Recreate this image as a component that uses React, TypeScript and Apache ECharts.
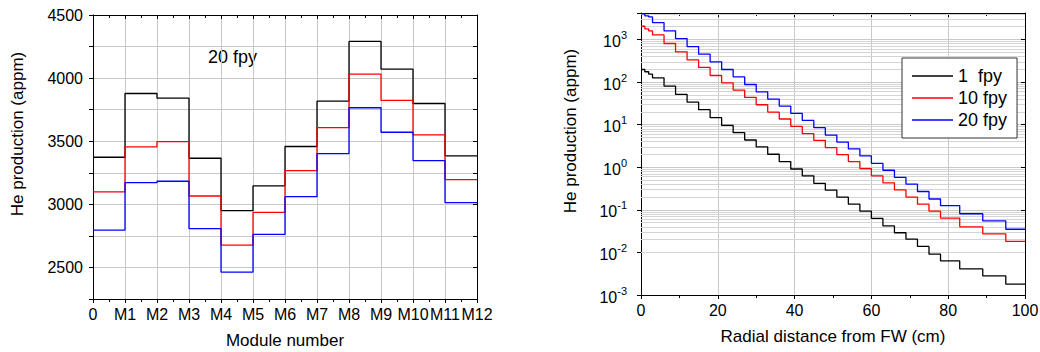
import React, { useEffect, useRef } from 'react';
import * as echarts from 'echarts';

const FONT = '"Liberation Sans", Arial, Helvetica, sans-serif';

// ---- Left chart: He production per module (20 fpy) ----
const moduleTickLabels = ['0', 'M1', 'M2', 'M3', 'M4', 'M5', 'M6', 'M7', 'M8', 'M9', 'M10', 'M11', 'M12'];
const moduleEdges = [0, 1, 2, 3, 4, 5, 6, 7, 8, 9, 10, 11, 12];
const moduleBlack = [3373, 3878, 3841, 3365, 2950, 3146, 3458, 3817, 4291, 4071, 3799, 3384];
const moduleRed = [3098, 3455, 3497, 3066, 2677, 2937, 3267, 3608, 4032, 3823, 3550, 3196];
const moduleBlue = [2796, 3172, 3183, 2807, 2463, 2762, 3061, 3402, 3765, 3571, 3347, 3013];

// ---- Right chart: He production vs radial distance ----
const radialEdges = [0, 1, 2, 3, 6, 9, 12, 15, 18, 21, 24, 27, 30, 33, 36, 39, 42, 45, 48, 51, 54, 57, 60, 63, 66, 69, 72, 75, 78, 83, 89, 95, 100];
const fpy1 = [198, 175, 154, 126, 80.6, 51.4, 34, 22.5, 14.6, 9.6, 6.5, 4.37, 3.0, 2.02, 1.36, 0.91, 0.63, 0.42, 0.29, 0.198, 0.136, 0.093, 0.063, 0.042, 0.029, 0.0205, 0.0138, 0.0091, 0.0063, 0.0041, 0.0028, 0.0018];
const fpy10 = [2053, 1778, 1597, 1286, 806, 514, 334, 221, 143, 96, 65, 43.7, 29.4, 19.8, 13.6, 9.1, 6.15, 4.3, 2.9, 1.98, 1.36, 0.93, 0.63, 0.43, 0.294, 0.2, 0.136, 0.093, 0.064, 0.04, 0.0274, 0.0181];
const fpy20 = [4000, 3600, 3400, 2500, 1600, 1055, 685, 453, 300, 198, 133, 88, 59, 40, 27.4, 18.4, 12.6, 8.5, 5.7, 3.9, 2.7, 1.85, 1.24, 0.85, 0.58, 0.4, 0.27, 0.18, 0.126, 0.081, 0.055, 0.035];
const legendNames = ['1  fpy', '10 fpy', '20 fpy'];
const radialTicks = [0, 20, 40, 60, 80, 100];

const stepData = (edges: number[], vals: number[]) =>
  vals.map((v, i) => [edges[i], v]).concat([[edges[edges.length - 1], vals[vals.length - 1]]]);

const logMin = 0.001;
const logMax = 4200;
const minorLogLines: number[] = [];
for (let k = -3; k <= 3; k++) {
  for (let m = 2; m <= 9; m++) {
    const v = m * Math.pow(10, k);
    if (v < logMax) minorLogLines.push(v);
  }
}

export default function App() {
  const ref = useRef<HTMLDivElement>(null);
  useEffect(() => {
    document.body.style.margin = '0';
    if (!ref.current) return;
    const chart = echarts.init(ref.current, null, { renderer: 'svg' });
    const axisLine = { show: true, onZero: false, lineStyle: { color: '#000', width: 1 } };
    const tickLine = { color: '#000', width: 1 };
    const label = { color: '#000', fontFamily: FONT, fontSize: 16 };
    const grid = { color: '#c8c8c8', width: 1, type: 'solid' };
    const lineSeries = (name: string, color: string, data: any, xi: number, yi: number) => ({
      name,
      type: 'line',
      xAxisIndex: xi,
      yAxisIndex: yi,
      data,
      step: 'end',
      symbol: 'none',
      showSymbol: false,
      lineStyle: { color, width: 1.3 },
      itemStyle: { color },
      z: 3,
    });
    const option: any = {
      animation: false,
      backgroundColor: '#fff',
      textStyle: { fontFamily: FONT },
      grid: [
        { left: 93, top: 15, width: 384, height: 284, containLabel: false, outerBoundsMode: 'none' },
        { left: 641, top: 13, width: 384, height: 282, containLabel: false, outerBoundsMode: 'none' },
      ],
      xAxis: [
        {
          gridIndex: 0, type: 'value', min: 0, max: 12, interval: 1, position: 'bottom',
          axisLine, axisTick: { show: true, inside: false, length: 4, lineStyle: tickLine },
          minorTick: { show: true, splitNumber: 2, length: 3, lineStyle: tickLine },
          axisLabel: { ...label, margin: 7, formatter: (v: number) => moduleTickLabels[Math.round(v)] ?? '' },
          splitLine: { show: true, lineStyle: grid },
          name: 'Module number', nameLocation: 'middle', nameGap: 33,
          nameTextStyle: { color: '#000', fontFamily: FONT, fontSize: 17 },
        },
        {
          gridIndex: 0, type: 'value', min: 0, max: 12, interval: 1, position: 'top',
          axisLine, axisTick: { show: true, inside: true, length: 4, lineStyle: tickLine },
          minorTick: { show: true, splitNumber: 2, length: 3, lineStyle: tickLine },
          axisLabel: { show: false }, splitLine: { show: false },
        },
        {
          gridIndex: 1, type: 'value', min: 0, max: 100, interval: 20, position: 'bottom',
          axisLine, axisTick: { show: true, inside: false, length: 4, lineStyle: tickLine },
          minorTick: { show: true, splitNumber: 2, length: 3, lineStyle: tickLine },
          axisLabel: { ...label, margin: 7, formatter: (v: number) => (radialTicks.includes(v) ? String(v) : '') },
          splitLine: { show: true, lineStyle: grid },
          name: 'Radial distance from FW (cm)', nameLocation: 'middle', nameGap: 33,
          nameTextStyle: { color: '#000', fontFamily: FONT, fontSize: 17 },
        },
        {
          gridIndex: 1, type: 'value', min: 0, max: 100, interval: 20, position: 'top',
          axisLine, axisTick: { show: true, inside: true, length: 4, lineStyle: tickLine },
          minorTick: { show: true, splitNumber: 2, length: 3, lineStyle: tickLine },
          axisLabel: { show: false }, splitLine: { show: false },
        },
      ],
      yAxis: [
        {
          gridIndex: 0, type: 'value', min: 2250, max: 4500, interval: 250, position: 'left',
          axisLine, axisTick: { show: true, inside: false, length: 4, lineStyle: tickLine },
          axisLabel: { ...label, margin: 10, formatter: (v: number) => (v % 500 === 0 ? String(v) : '') },
          splitLine: { show: true, lineStyle: grid },
        },
        {
          gridIndex: 0, type: 'value', min: 2250, max: 4500, interval: 250, position: 'right',
          axisLine, axisTick: { show: true, inside: true, length: 4, lineStyle: tickLine },
          axisLabel: { show: false }, splitLine: { show: false },
        },
        {
          gridIndex: 1, type: 'log', logBase: 10, min: logMin, max: logMax, position: 'left',
          axisLine, axisTick: { show: true, inside: false, length: 4, lineStyle: tickLine },
          axisLabel: {
            margin: 14,
            formatter: (v: number) => {
              const l = Math.log10(v);
              const e = Math.round(l);
              if (Math.abs(l - e) > 1e-6) return '';
              return '{b|10}{s|' + e + '}';
            },
            rich: {
              b: { color: '#000', fontFamily: FONT, fontSize: 16, lineHeight: 20, verticalAlign: 'bottom' },
              s: { color: '#000', fontFamily: FONT, fontSize: 11, lineHeight: 11, verticalAlign: 'top' },
            },
          },
          splitLine: { show: true, lineStyle: grid },
        },
        {
          gridIndex: 1, type: 'log', logBase: 10, min: logMin, max: logMax, position: 'right',
          axisLine, axisTick: { show: true, inside: true, length: 4, lineStyle: tickLine },
          axisLabel: { show: false }, splitLine: { show: false },
        },
      ],
      legend: {
        data: legendNames,
        left: 902, top: 58,
        orient: 'vertical',
        padding: [9, 10, 9, 10],
        itemGap: 4,
        icon: 'rect',
        itemWidth: 41, itemHeight: 1.3,
        borderColor: '#333', borderWidth: 1,
        backgroundColor: '#fff',
        textStyle: { color: '#000', fontFamily: FONT, fontSize: 18, lineHeight: 18 },
        selectedMode: false,
        z: 10,
      },
      graphic: [
        {
          type: 'text', x: 17, y: 134, rotation: Math.PI / 2,
          style: { text: 'He production (appm)', fill: '#000', fontFamily: FONT, fontSize: 17, align: 'center', verticalAlign: 'middle' },
        },
        {
          type: 'text', x: 570, y: 131, rotation: Math.PI / 2,
          style: { text: 'He production (appm)', fill: '#000', fontFamily: FONT, fontSize: 17, align: 'center', verticalAlign: 'middle' },
        },
        {
          type: 'text', x: 208, y: 57,
          style: { text: '20 fpy', fill: '#000', fontFamily: FONT, fontSize: 18, align: 'left', verticalAlign: 'middle' },
        },
      ],
      series: [
        {
          name: 'minor-grid', type: 'line', xAxisIndex: 2, yAxisIndex: 2, data: [], z: 1, silent: true,
          markLine: {
            silent: true, symbol: 'none', animation: false, z: 1,
            label: { show: false },
            lineStyle: { color: '#d4d4d4', width: 1, type: 'solid' },
            data: minorLogLines.map((v) => ({ yAxis: v })),
          },
        },
        lineSeries('mod-a', '#000000', stepData(moduleEdges, moduleBlack), 0, 0),
        lineSeries('mod-b', '#ff0000', stepData(moduleEdges, moduleRed), 0, 0),
        lineSeries('mod-c', '#0000ff', stepData(moduleEdges, moduleBlue), 0, 0),
        lineSeries(legendNames[0], '#000000', stepData(radialEdges, fpy1), 2, 2),
        lineSeries(legendNames[1], '#ff0000', stepData(radialEdges, fpy10), 2, 2),
        lineSeries(legendNames[2], '#0000ff', stepData(radialEdges, fpy20), 2, 2),
      ],
    };
    chart.setOption(option);
    return () => chart.dispose();
  }, []);
  return <div ref={ref} style={{ width: 1040, height: 352 }} />;
}
